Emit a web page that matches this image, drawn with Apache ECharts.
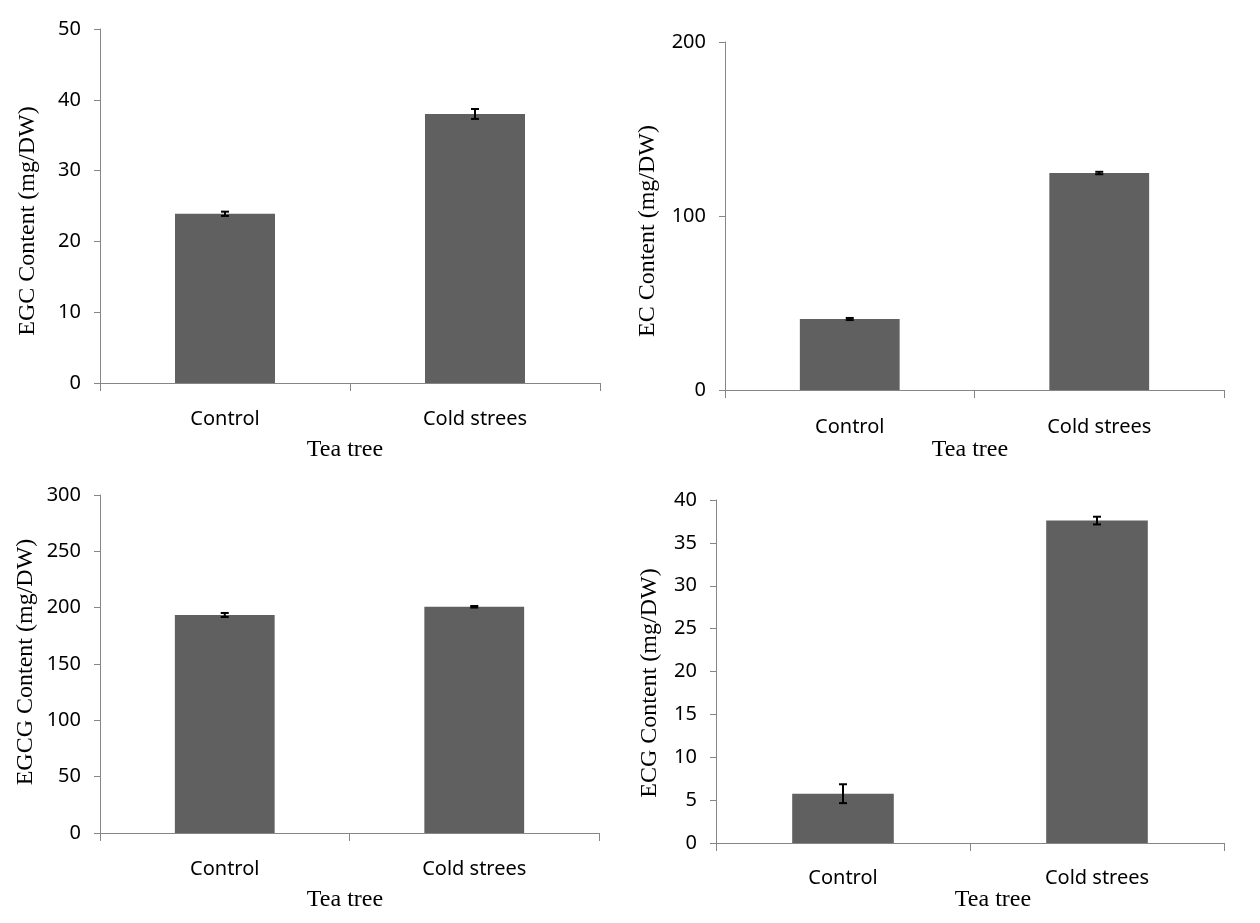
<!DOCTYPE html>
<html>
<head>
<meta charset="utf-8">
<script src="https://cdn.jsdelivr.net/npm/echarts@6/dist/echarts.min.js"></script>
<style>
html,body{margin:0;padding:0;background:#fff;}
#chart{width:1260px;height:923px;}
</style>
</head>
<body>
<div id="chart"></div>
<script>
const categories = ['Control', 'Cold strees'];
const egcValues = [23.9, 38.0];
const egcErrors = [0.3, 0.7];
const ecValues = [40.8, 124.7];
const ecErrors = [0.6, 0.7];
const egcgValues = [193.5, 200.8];
const egcgErrors = [1.8, 0.7];
const ecgValues = [5.75, 37.6];
const ecgErrors = [1.1, 0.45];
const yTitles = ['EGC Content (mg/DW)', 'EC Content (mg/DW)', 'EGCG Content (mg/DW)', 'ECG Content (mg/DW)'];
const xTitle = 'Tea tree';

const axisColor = '#868686';
const barColor = '#606060';
const sansFont = '"Noto Sans", "Open Sans", sans-serif';
const serifFont = '"Liberation Serif", "DejaVu Serif", serif';

const panels = [
  {vals: egcValues, errs: egcErrors, max: 50, interval: 10, grid: {left: 100, top: 29, width: 500, height: 354}, yName: {x: 28, y: 221}, xName: {x: 345, y: 450}, labelMargin: 26},
  {vals: ecValues, errs: ecErrors, max: 200, interval: 100, grid: {left: 725, top: 42, width: 499, height: 348}, yName: {x: 648, y: 231}, xName: {x: 970, y: 450}, labelMargin: 27},
  {vals: egcgValues, errs: egcgErrors, max: 300, interval: 50, grid: {left: 100, top: 495, width: 499, height: 338}, yName: {x: 26, y: 662}, xName: {x: 345, y: 900}, labelMargin: 26},
  {vals: ecgValues, errs: ecgErrors, max: 40, interval: 5, grid: {left: 716, top: 500, width: 508, height: 343}, yName: {x: 650, y: 683}, xName: {x: 993, y: 900}, labelMargin: 25}
];

const grids = [], xAxes = [], yAxes = [], series = [], graphics = [];
panels.forEach((p, i) => {
  grids.push(Object.assign({containLabel: false}, p.grid));
  xAxes.push({
    type: 'category', gridIndex: i, data: categories, boundaryGap: true,
    axisLine: {lineStyle: {color: axisColor, width: 1}},
    axisTick: {show: true, length: 8, alignWithLabel: false, lineStyle: {color: axisColor}},
    axisLabel: {color: '#000', fontFamily: sansFont, fontSize: 20, margin: p.labelMargin}
  });
  yAxes.push({
    type: 'value', gridIndex: i, min: 0, max: p.max, interval: p.interval,
    axisLine: {show: true, lineStyle: {color: axisColor, width: 1}},
    axisTick: {show: true, length: 6, lineStyle: {color: axisColor}},
    splitLine: {show: false},
    axisLabel: {color: '#000', fontFamily: sansFont, fontSize: 20, margin: 19}
  });
  series.push({
    type: 'bar', xAxisIndex: i, yAxisIndex: i, data: p.vals, barWidth: '40%',
    itemStyle: {color: barColor}, silent: true, animation: false
  });
  series.push({
    type: 'custom', xAxisIndex: i, yAxisIndex: i, animation: false, silent: true, z: 10,
    data: p.vals.map((v, k) => [k, v, p.errs[k]]),
    renderItem: function (params, api) {
      const x = api.value(0), v = api.value(1), e = api.value(2);
      const top = api.coord([x, v + e]);
      const bot = api.coord([x, v - e]);
      const hw = 4;
      const st = {stroke: '#000', lineWidth: 2};
      return {type: 'group', children: [
        {type: 'line', shape: {x1: top[0], y1: top[1], x2: bot[0], y2: bot[1]}, style: st},
        {type: 'line', shape: {x1: top[0] - hw, y1: top[1], x2: top[0] + hw, y2: top[1]}, style: st},
        {type: 'line', shape: {x1: bot[0] - hw, y1: bot[1], x2: bot[0] + hw, y2: bot[1]}, style: st}
      ]};
    }
  });
  graphics.push({
    type: 'text', x: p.yName.x, y: p.yName.y, rotation: Math.PI / 2,
    style: {text: yTitles[i], font: '24px ' + serifFont, fill: '#000', align: 'center', verticalAlign: 'middle'}
  });
  graphics.push({
    type: 'text', x: p.xName.x, y: p.xName.y,
    style: {text: xTitle, font: '24px ' + serifFont, fill: '#000', align: 'center', verticalAlign: 'middle'}
  });
});

const chart = echarts.init(document.getElementById('chart'), null, {renderer: 'canvas'});
chart.setOption({
  animation: false,
  backgroundColor: '#fff',
  grid: grids, xAxis: xAxes, yAxis: yAxes, series: series, graphic: graphics
});
</script>
</body>
</html>
